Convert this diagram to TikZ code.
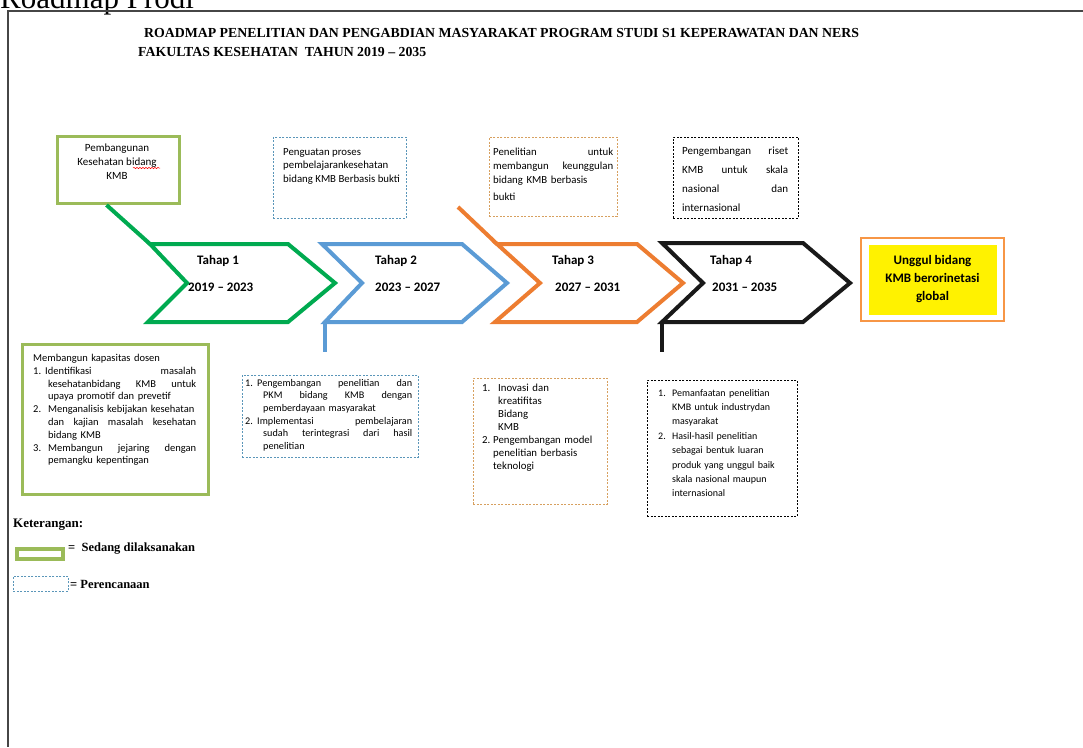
\documentclass[tikz,border=0pt]{standalone}
\usepackage{fontspec}
\setmainfont{Carlito}
\newfontfamily\timesfont{Liberation Serif}
\usetikzlibrary{decorations.pathmorphing}
\definecolor{tahapgreen}{RGB}{0,170,80}
\definecolor{tahapblue}{RGB}{91,155,213}
\definecolor{tahaporange}{RGB}{237,125,49}
\definecolor{tahapblack}{RGB}{25,25,25}
\definecolor{olivegreen}{RGB}{155,187,89}
\definecolor{planblue}{RGB}{90,150,185}
\definecolor{plantan}{RGB}{215,160,95}
\definecolor{goalorange}{RGB}{247,150,70}
\definecolor{framegray}{RGB}{70,70,70}
% one line of a box: justified (\jl), ragged (\rl), numbered (\nr, \nj)
\newcommand{\jl}[2][0pt]{\hspace*{#1}\makebox[\dimexpr\hsize-#1\relax][s]{#2}}
\newcommand{\rl}[2][0pt]{\hspace*{#1}#2}
\newcommand{\nr}[3]{\makebox[#1][l]{#2}#3}
\newcommand{\nj}[3]{\makebox[#1][l]{#2}\makebox[\dimexpr\hsize-#1\relax][s]{#3}}
\tikzset{
  stage/.style={line width=4pt, line join=miter},
  donebox/.style={draw=olivegreen, line width=3pt, inner sep=0, anchor=north west},
  planbox/.style={draw=planblue, dash pattern=on 2pt off 1.5pt, line width=0.8pt, inner sep=0, anchor=north west},
  tanbox/.style={planbox, draw=plantan},
  blackbox/.style={planbox, draw=black},
  boxtext/.style={inner sep=0, anchor=north west, align=left, font=\fontsize{10.5}{12.8}\selectfont},
  tahaplabel/.style={inner sep=0, anchor=base west, font=\bfseries\fontsize{13}{15}\selectfont},
  titletext/.style={inner sep=0, anchor=base west, font=\timesfont\bfseries\fontsize{13.8}{16}\selectfont},
}
\begin{document}
\begin{tikzpicture}[x=1pt, y=-1pt]
    \useasboundingbox (0,0) rectangle (1083,747);
    \node[inner sep=0, anchor=base west, font=\timesfont\fontsize{31}{32}\selectfont] (heading) at (0,8) {Roadmap Prodi};
    \draw[framegray, line width=1.3pt] (1083,11) -- (8,11) -- (8,747);
    \node[titletext] (title1) at (144,37) {ROADMAP PENELITIAN DAN PENGABDIAN MASYARAKAT PROGRAM STUDI S1 KEPERAWATAN DAN NERS};
    \node[titletext] (title2) at (138,56) {FAKULTAS KESEHATAN\ \ TAHUN 2019 \textendash{} 2035};

    % tahap chevrons
    \coordinate (s1nw) at (150,244);
    \coordinate (s1sw) at (148,322);
    \draw[stage, tahapgreen] (s1nw) -- (288,244) -- (335,283) -- (288,322) -- (s1sw) -- (187,283) -- cycle;
    \coordinate (s2nw) at (322,244);
    \coordinate (s2sw) at (325,322);
    \draw[stage, tahapblue] (s2nw) -- (462,244) -- (507,283) -- (462,322) -- (s2sw) -- (362,283) -- cycle;
    \coordinate (s3nw) at (497,244);
    \coordinate (s3sw) at (495,322);
    \draw[stage, tahaporange] (s3nw) -- (637,244) -- (683,283) -- (637,322) -- (s3sw) -- (540,283) -- cycle;
    \coordinate (s4nw) at (662,243);
    \coordinate (s4sw) at (662,322);
    \draw[stage, tahapblack] (s4nw) -- (803,243) -- (850,283) -- (803,322) -- (s4sw) -- (703,283) -- cycle;

    \node[tahaplabel] (tahap1) at (197,264) {Tahap 1};
    \node[tahaplabel] (year1)  at (188,291) {2019 \textendash{} 2023};
    \node[tahaplabel] (tahap2) at (375,264) {Tahap 2};
    \node[tahaplabel] (year2)  at (375,291) {2023 \textendash{} 2027};
    \node[tahaplabel] (tahap3) at (552,264) {Tahap 3};
    \node[tahaplabel] (year3)  at (555,291) {2027 \textendash{} 2031};
    \node[tahaplabel] (tahap4) at (710,264) {Tahap 4};
    \node[tahaplabel] (year4)  at (712,291) {2031 \textendash{} 2035};

    % goal
    \node[draw=goalorange, line width=2pt, fill=white, minimum width=143, minimum height=83, inner sep=0, anchor=north west] (goalbox) at (860,237) {};
    \node[fill=yellow, minimum width=128, minimum height=70, inner sep=0, align=center, font=\bfseries\fontsize{13}{18}\selectfont] (goal) at (goalbox.center) {Unggul bidang\\KMB berorinetasi\\global};

    % top boxes
    \node[donebox, minimum width=122, minimum height=67] (b1) at (56,135) {};
    \node[inner sep=0, align=center, font=\fontsize{11}{14}\selectfont] (b1t) at (117,162) {Pembangunan\\Kesehatan bidang\\KMB};
    \draw[red, line width=0.5pt, decorate, decoration={snake, amplitude=0.7pt, segment length=3pt}] (133,168) -- (160,168);
    \node[planbox, minimum width=133, minimum height=81] (b2) at (273,137) {};
    \node[boxtext, font=\fontsize{10.8}{13.5}\selectfont] (b2t) at (283,148) {Penguatan proses\\pembelajarankesehatan\\bidang KMB Berbasis bukti};
    \node[tanbox, minimum width=128, minimum height=79] (b3) at (489,137) {};
    \node[boxtext, text width=120, font=\fontsize{10.8}{14}\selectfont] (b3t) at (493,148)
        {\jl{Penelitian\hfill untuk}\\\jl{membangun\hfill keunggulan}\\\rl{bidang KMB berbasis}\\[3pt]\rl{bukti}};
    \node[blackbox, minimum width=125, minimum height=81] (b4) at (673,137) {};
    \node[boxtext, text width=106, font=\fontsize{11}{19}\selectfont] (b4t) at (682,147)
        {\jl{Pengembangan\hfill riset}\\\jl{KMB\hfill untuk\hfill skala}\\\jl{nasional\hfill dan}\\\rl{internasional}};

    % bottom boxes
    \node[donebox, minimum width=186, minimum height=150] (b5) at (21,343) {};
    \node[boxtext, text width=163] (b5t) at (33,354)
        {\rl{Membangun kapasitas dosen}\\
         \nj{12pt}{1.}{Identifikasi\hfill masalah}\\
         \jl[15pt]{kesehatanbidang\hfill KMB\hfill untuk}\\
         \rl[15pt]{upaya promotif dan prevetif}\\
         \nr{15pt}{2.}{Menganalisis kebijakan kesehatan}\\
         \jl[15pt]{dan\hfill kajian\hfill masalah\hfill kesehatan}\\
         \rl[15pt]{bidang KMB}\\
         \nj{15pt}{3.}{Membangun\hfill jejaring\hfill dengan}\\
         \rl[15pt]{pemangku kepentingan}};
    \node[planbox, minimum width=176, minimum height=82] (b6) at (242,375) {};
    \node[boxtext, text width=167, font=\fontsize{10.2}{12.6}\selectfont] (b6t) at (245,379)
        {\nj{12pt}{1.}{Pengembangan\hfill penelitian\hfill dan}\\
         \jl[18pt]{PKM\hfill bidang\hfill KMB\hfill dengan}\\
         \rl[18pt]{pemberdayaan masyarakat}\\
         \nj{12pt}{2.}{Implementasi\hfill pembelajaran}\\
         \jl[18pt]{sudah\hfill terintegrasi\hfill dari\hfill hasil}\\
         \rl[18pt]{penelitian}};
    \node[tanbox, minimum width=134, minimum height=126] (b7) at (473,378) {};
    \node[boxtext, text width=118, font=\fontsize{10.8}{13}\selectfont] (b7t) at (482,384)
        {\nr{16pt}{1.}{Inovasi dan}\\\rl[16pt]{kreatifitas}\\\rl[16pt]{Bidang}\\\rl[16pt]{KMB}\\
         \nr{11pt}{2.}{Pengembangan model}\\\rl[11pt]{penelitian berbasis}\\\rl[11pt]{teknologi}};
    \node[blackbox, minimum width=150, minimum height=136] (b8) at (647,380) {};
    \node[boxtext, text width=135, font=\fontsize{10}{14.4}\selectfont] (b8t) at (658,389)
        {\nr{14pt}{1.}{Pemanfaatan penelitian}\\\rl[14pt]{KMB untuk industrydan}\\\rl[14pt]{masyarakat}\\
         \nr{14pt}{2.}{Hasil-hasil penelitian}\\\rl[14pt]{sebagai bentuk luaran}\\\rl[14pt]{produk yang unggul baik}\\
         \rl[14pt]{skala nasional maupun}\\\rl[14pt]{internasional}};

    % connectors
    \coordinate (o3) at (458,207);
    \coordinate (d2) at (325,352);
    \coordinate (d4) at (662,352);
    \draw[stage, tahapgreen] ([xshift=-12pt]b1.south) -- (s1nw);
    \draw[stage, tahaporange] (o3) -- (s3nw);
    \draw[stage, tahapblue] (s2sw) -- (d2);
    \draw[stage, tahapblack] (s4sw) -- (d4);

    % legend
    \node[inner sep=0, anchor=base west, font=\timesfont\bfseries\fontsize{13}{15}\selectfont] (ket) at (13,527) {Keterangan:};
    \node[draw=olivegreen, line width=4pt, fill=white, minimum width=46, minimum height=10, inner sep=0, anchor=north west] (legdone) at (15,547) {};
    \node[inner sep=0, anchor=base west, font=\timesfont\bfseries\fontsize{12.5}{15}\selectfont] (legdonetxt) at (68,551) {=\ \ Sedang dilaksanakan};
    \node[planbox, minimum width=55, minimum height=15] (legplan) at (13,576) {};
    \node[inner sep=0, anchor=base west, font=\timesfont\bfseries\fontsize{12.5}{15}\selectfont] (legplantxt) at (70,588) {= Perencanaan};
\end{tikzpicture}
\end{document}
